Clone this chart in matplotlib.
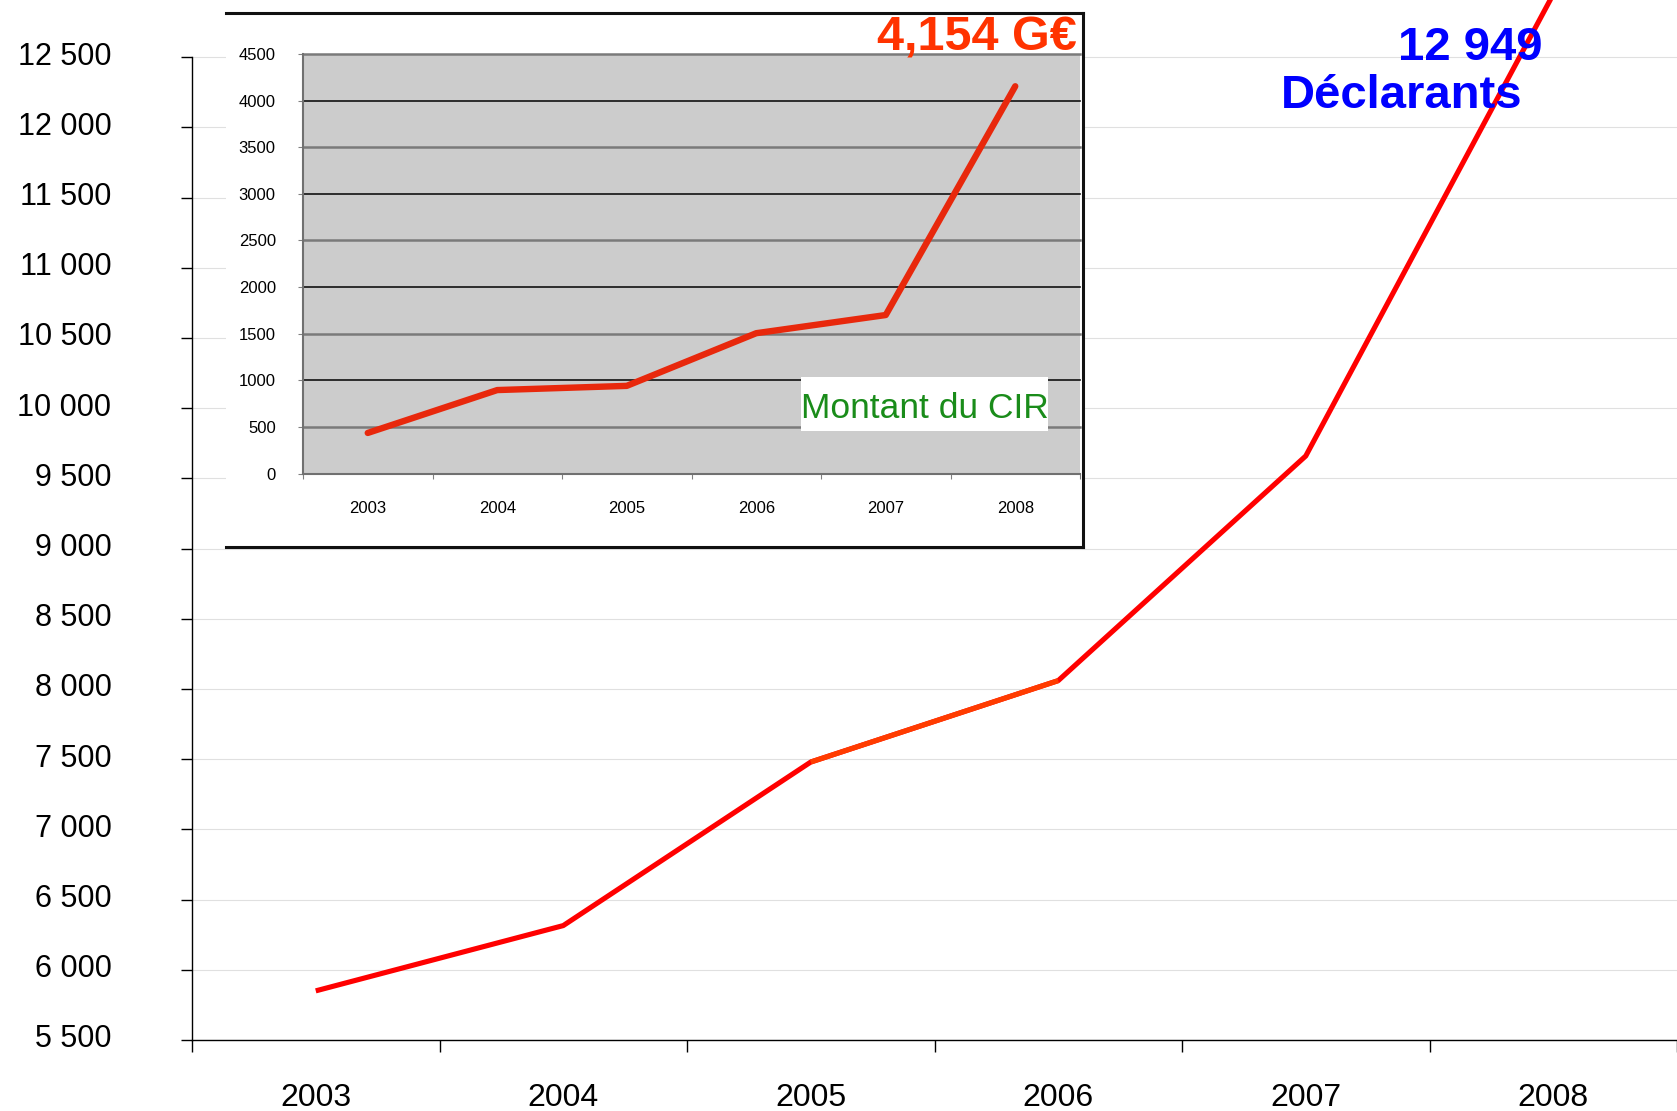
import matplotlib
matplotlib.use('Agg')
import matplotlib.pyplot as plt
import matplotlib.transforms as mtransforms
from matplotlib.patches import Rectangle
from matplotlib.ticker import FuncFormatter

# Données
years = ['2003', '2004', '2005', '2006', '2007', '2008']
declarants = [5850, 6315, 7480, 8060, 9660, 12949]   # nombre de déclarants
cir_montant = [435, 895, 940, 1505, 1700, 4154]      # montant du CIR (M€)

main_yticks = list(range(5500, 13000, 500))
inset_yticks = list(range(0, 5000, 500))

W, H = 1677, 1111
plt.rcParams['font.family'] = ['Liberation Sans', 'DejaVu Sans']


def px(x0, y0, x1, y1):
    # boite en pixels (origine en haut a gauche) -> coordonnees figure
    return [x0 / W, 1 - y1 / H, (x1 - x0) / W, (y1 - y0) / H]


fig = plt.figure(figsize=(W / 100, H / 100), dpi=100)

# Graphique principal : déclarants
ax = fig.add_axes(px(192, 0, W, 1040))
xs = [i + 0.5 for i in range(len(years))]
ax.plot(xs, declarants, color='#FF0000', lw=3.7, solid_capstyle='butt', zorder=3)
ax.plot(xs[2:4], declarants[2:4], color='#FF3C00', lw=3.7, solid_capstyle='butt', zorder=4)
ax.set_xlim(0, 6)
ax.set_ylim(5500, 12908)
ax.set_yticks(main_yticks)
ax.yaxis.set_major_formatter(FuncFormatter(lambda v, p: f'{int(v):,}'.replace(',', ' ')))
ax.set_xticks(range(7))
ax.set_xticklabels([])
ax.set_xticks(xs, minor=True)
ax.set_xticklabels(years, minor=True)
ax.tick_params(axis='x', which='major', length=8.6, width=1, direction='out')
ax.tick_params(axis='x', which='minor', length=0, pad=31, labelsize=23)
ax.tick_params(axis='y', length=8, width=1, pad=50, labelsize=22)
# les libellés de l'axe Y sont un peu au-dessus des graduations
up = mtransforms.ScaledTranslation(0, 3 / 72, fig.dpi_scale_trans)
for lbl in ax.get_yticklabels():
    lbl.set_transform(lbl.get_transform() + up)
ax.grid(axis='y', color='#E0E0E0', lw=0.8)
ax.set_axisbelow(True)
for s in ['top', 'right']:
    ax.spines[s].set_visible(False)
ax.spines['left'].set_bounds(5500, 12500)
ax.spines['left'].set_linewidth(1)
ax.spines['bottom'].set_linewidth(1)

# Cadre blanc de l'encart
box = fig.add_axes(px(226, 13, 1083, 547))
box.set_facecolor('white')
box.set_xticks([])
box.set_yticks([])
box.spines['left'].set_visible(False)
for s in ['top', 'right', 'bottom']:
    box.spines[s].set_linewidth(2.2)
    box.spines[s].set_color('#111111')

# Encart : montant du CIR
axi = fig.add_axes(px(303, 54, 1080, 473.5))
axi.set_facecolor('#CCCCCC')
axi.plot(xs, cir_montant, color='#E8280C', lw=4.6, solid_capstyle='round', zorder=3)
axi.set_xlim(0, 6)
axi.set_ylim(0, 4500)
axi.set_yticks(inset_yticks)
axi.set_xticks(range(7))
axi.set_xticklabels([])
axi.set_xticks(xs, minor=True)
axi.set_xticklabels(years, minor=True)
axi.tick_params(axis='x', which='major', length=3.6, color='#808080', direction='out')
axi.tick_params(axis='x', which='minor', length=0, pad=20, labelsize=12)
axi.tick_params(axis='y', length=3.6, color='#808080', pad=16, labelsize=12)
axi.yaxis.grid(True)
for val, gl in zip(inset_yticks, axi.get_ygridlines()):
    gl.set_clip_on(False)
    if val == 0:
        gl.set_visible(False)
    elif val % 1000 == 0:
        gl.set_color('#111111')
        gl.set_linewidth(1.2)
    else:
        gl.set_color('#7A7A7A')
        gl.set_linewidth(1.8)
for s in ['top', 'right']:
    axi.spines[s].set_visible(False)
for s in ['left', 'bottom']:
    axi.spines[s].set_color('#707070')
    axi.spines[s].set_linewidth(1.5)

# Étiquette "Montant du CIR"
fig.patches.append(Rectangle((801 / W, 1 - 431 / H), 247 / W, 54 / H,
                             transform=fig.transFigure, facecolor='white',
                             edgecolor='none', zorder=2))
fig.text(924.5 / W, 1 - 418.3 / H, 'Montant du CIR', ha='center', va='baseline',
         color='#1A8C1A', fontsize=25.5, zorder=3)

# Annotations
fig.text(1077 / W, 1 - 50 / H, '4,154 G€', ha='right', va='baseline',
         color='#FF3300', fontsize=35, fontweight='bold')
fig.text(1542 / W, 1 - 60 / H, '12 949', ha='right', va='baseline',
         color='#0000FF', fontsize=34, fontweight='bold')
fig.text(1281 / W, 1 - 108.3 / H, 'Déclarants', ha='left', va='baseline',
         color='#0000FF', fontsize=34, fontweight='bold')

fig.savefig('out.png', dpi=100)
